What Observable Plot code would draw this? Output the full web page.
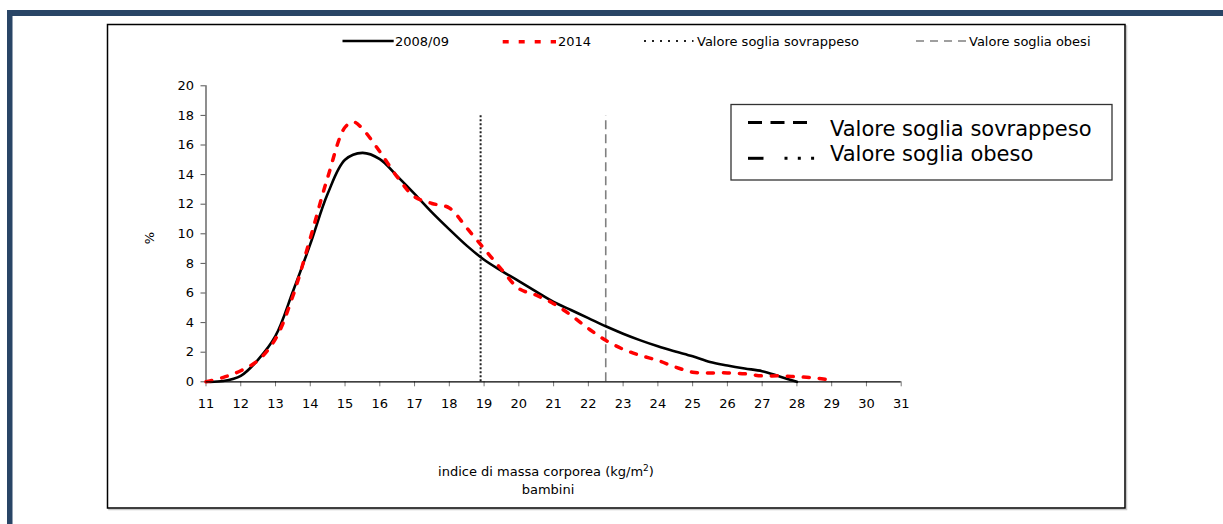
<!DOCTYPE html>
<html>
<head>
<meta charset="utf-8">
<script src="https://cdn.jsdelivr.net/npm/d3@7"></script>
<script src="https://cdn.jsdelivr.net/npm/@observablehq/plot@0.6"></script>
<style>
html, body { margin: 0; padding: 0; background: #ffffff; }
#chart { position: relative; width: 1223px; height: 524px; overflow: hidden; }
</style>
</head>
<body>
<div id="chart"></div>
<script>
// ---- data ----
const bmi2008 = [11, 11.5, 12, 12.5, 13, 13.5, 14, 14.5, 15, 15.5, 16, 16.5, 17, 17.5, 18, 18.5, 19, 19.5, 20, 20.5, 21, 21.5, 22, 22.5, 23, 23.5, 24, 24.5, 25, 25.5, 26, 26.5, 27, 27.5, 28];
const pct2008 = [0, 0.05, 0.4, 1.5, 3.1, 6.1, 9.3, 12.7, 15.0, 15.47, 15.05, 13.9, 12.7, 11.45, 10.3, 9.2, 8.25, 7.5, 6.8, 6.1, 5.4, 4.85, 4.3, 3.75, 3.25, 2.8, 2.4, 2.05, 1.72, 1.33, 1.1, 0.9, 0.72, 0.36, 0];

const bmi2014 = [11, 11.5, 12, 12.5, 13, 13.5, 14, 14.5, 15, 15.25, 15.5, 16, 16.5, 17, 17.5, 18, 18.5, 19, 19.5, 20, 20.5, 21, 21.5, 22, 22.5, 23, 23.5, 24, 24.5, 25, 25.5, 26, 26.5, 27, 27.5, 28, 28.5, 29];
const pct2014 = [0, 0.3, 0.75, 1.45, 2.9, 5.8, 9.7, 13.8, 17.2, 17.55, 17.1, 15.55, 13.85, 12.5, 12.05, 11.75, 10.4, 9.0, 7.6, 6.3, 5.85, 5.28, 4.5, 3.6, 2.8, 2.2, 1.78, 1.44, 1.0, 0.65, 0.6, 0.6, 0.54, 0.4, 0.4, 0.34, 0.27, 0.1];

const overweightThreshold = [18.9];
const obeseThreshold = [22.5];
const thresholdTop = 18;

const xTicks = [11, 12, 13, 14, 15, 16, 17, 18, 19, 20, 21, 22, 23, 24, 25, 26, 27, 28, 29, 30, 31];
const yTicks = [0, 2, 4, 6, 8, 10, 12, 14, 16, 18, 20];

const seriesNames = ["2008/09", "2014"];
const thresholdNames = ["Valore soglia sovrappeso", "Valore soglia obesi"];
const boxLegendNames = ["Valore soglia sovrappeso", "Valore soglia obeso"];
const xTitle = "indice di massa corporea (kg/m";
const xTitleSup = "2";
const xSubtitle = "bambini";
const yTitle = "%";

// ---- tables for Plot ----
const s2008 = bmi2008.map((x, i) => ({x, y: pct2008[i]}));
const s2014 = bmi2014.map((x, i) => ({x, y: pct2014[i]}));

const FONT = "DejaVu Sans";

const svg = Plot.plot({
  width: 1223,
  height: 524,
  marginLeft: 205.5,
  marginRight: 322.3,
  marginTop: 85.3,
  marginBottom: 142.7,
  style: {fontFamily: FONT, fontSize: "13px", background: "transparent", color: "#000", overflow: "visible"},
  x: {domain: [11, 31]},
  y: {domain: [0, 20]},
  marks: [
    Plot.ruleX([11], {y1: 0, y2: 20, stroke: "#444", strokeWidth: 1.2}),
    Plot.axisX({ticks: xTicks, tickSize: 5, tickPadding: 12, stroke: "#777", fill: "#000", fontSize: 13, label: null, tickFormat: d => String(d)}),
    Plot.axisY({ticks: yTicks, tickSize: 5, tickPadding: 7, stroke: "#555", fill: "#000", fontSize: 13, label: null, tickFormat: d => String(d)}),
    Plot.ruleX(overweightThreshold, {y1: 0, y2: thresholdTop, stroke: "#222", strokeWidth: 2, strokeDasharray: "2,2"}),
    Plot.ruleX(obeseThreshold, {y1: 0, y2: thresholdTop, stroke: "#808080", strokeWidth: 1.6, strokeDasharray: "9,5"}),
    Plot.line(s2008, {x: "x", y: "y", stroke: "#000", strokeWidth: 2.6, curve: "catmull-rom"}),
    Plot.line(s2014, {x: "x", y: "y", stroke: "#ff0000", strokeWidth: 3.5, strokeDasharray: "6,10", curve: "catmull-rom"}),
    Plot.ruleY([0], {x1: 11, x2: 31, stroke: "#000", strokeWidth: 1.3})
  ]
});

svg.style.fontFamily = FONT;
svg.style.fontSize = "13px";
document.getElementById("chart").appendChild(svg);

// ---- decorations: frame, legends, titles ----
const root = d3.select(svg);
const bg = root.insert("g", ":first-child");
bg.append("rect").attr("x", 0).attr("y", 0).attr("width", 1223).attr("height", 524).attr("fill", "#ffffff");
bg.append("rect").attr("x", 7).attr("y", 10).attr("width", 1216).attr("height", 6).attr("fill", "#294566");
bg.append("rect").attr("x", 7).attr("y", 10).attr("width", 5.5).attr("height", 514).attr("fill", "#294566");
bg.append("rect").attr("x", 109).attr("y", 26).attr("width", 1017.5).attr("height", 483.5).attr("fill", "none").attr("stroke", "#c8c8c8").attr("stroke-width", 1.5);
bg.append("rect").attr("x", 107.5).attr("y", 24.5).attr("width", 1017.5).attr("height", 483.5).attr("fill", "#ffffff").attr("stroke", "#000").attr("stroke-width", 1.5);

const fg = root.append("g").attr("font-family", FONT).attr("fill", "#000").attr("text-anchor", "start");

// top legend
const topY = 41;
fg.append("line").attr("x1", 342.5).attr("x2", 393.7).attr("y1", topY).attr("y2", topY).attr("stroke", "#000").attr("stroke-width", 2.5);
fg.append("text").attr("x", 395).attr("y", topY + 4.5).attr("font-size", 13).text(seriesNames[0]);
fg.append("line").attr("x1", 502.7).attr("x2", 556).attr("y1", topY + 0.7).attr("y2", topY + 0.7).attr("stroke", "#ff0000").attr("stroke-width", 3.5).attr("stroke-dasharray", "6,10");
fg.append("text").attr("x", 558).attr("y", topY + 4.5).attr("font-size", 13).text(seriesNames[1]);
fg.append("line").attr("x1", 644).attr("x2", 693.5).attr("y1", topY).attr("y2", topY).attr("stroke", "#222").attr("stroke-width", 2).attr("stroke-dasharray", "2,6");
fg.append("text").attr("x", 697).attr("y", topY + 4.5).attr("font-size", 13).text(thresholdNames[0]);
fg.append("line").attr("x1", 916).attr("x2", 967.6).attr("y1", topY).attr("y2", topY).attr("stroke", "#808080").attr("stroke-width", 1.6).attr("stroke-dasharray", "8,6");
fg.append("text").attr("x", 969).attr("y", topY + 4.5).attr("font-size", 13).text(thresholdNames[1]);

// boxed legend
fg.append("rect").attr("x", 731).attr("y", 104.5).attr("width", 381).attr("height", 75.5).attr("fill", "#ffffff").attr("stroke", "#333").attr("stroke-width", 1.3);
fg.append("line").attr("x1", 748).attr("x2", 807).attr("y1", 122.5).attr("y2", 122.5).attr("stroke", "#000").attr("stroke-width", 3).attr("stroke-dasharray", "14,8.5");
fg.append("text").attr("x", 830).attr("y", 136).attr("font-size", 21).text(boxLegendNames[0]);
fg.append("line").attr("x1", 748).attr("x2", 763.5).attr("y1", 158.3).attr("y2", 158.3).attr("stroke", "#000").attr("stroke-width", 3);
fg.append("line").attr("x1", 784.5).attr("x2", 815).attr("y1", 158.3).attr("y2", 158.3).attr("stroke", "#000").attr("stroke-width", 3).attr("stroke-dasharray", "3,10.3");
fg.append("text").attr("x", 830).attr("y", 160.5).attr("font-size", 21).text(boxLegendNames[1]);

// axis titles
fg.append("text").attr("transform", "translate(154,238) rotate(-90)").attr("text-anchor", "middle").attr("font-size", 13).text(yTitle);
const t1 = fg.append("text").attr("x", 546).attr("y", 476).attr("text-anchor", "middle").attr("font-size", 13);
t1.append("tspan").text(xTitle);
t1.append("tspan").attr("dy", -5).attr("font-size", 9).text(xTitleSup);
t1.append("tspan").attr("dy", 5).text(")");
fg.append("text").attr("x", 548).attr("y", 494).attr("text-anchor", "middle").attr("font-size", 13).text(xSubtitle);
</script>
</body>
</html>
